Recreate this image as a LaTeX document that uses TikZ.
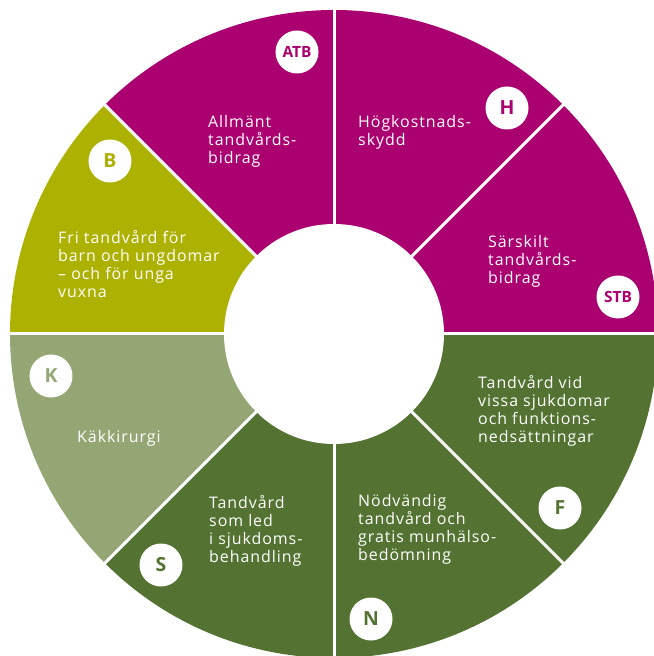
\documentclass[tikz,border=0pt]{standalone}
\usepackage{fontspec}
\newfontfamily\lblfont{Open Sans}[LetterSpace=6]
\newfontfamily\bdgfont{Open Sans}
\definecolor{cMag}{RGB}{170,0,112}
\definecolor{cYel}{RGB}{173,178,2}
\definecolor{cLgr}{RGB}{149,166,117}
\definecolor{cDgr}{RGB}{84,115,50}
\tikzset{
  lbl/.style={anchor=base west, align=left, text=white, inner sep=0pt,
    font=\lblfont\fontsize{16}{18.3}\selectfont},
  badge/.style={circle, fill=white, minimum size=43bp, inner sep=0pt,
    font=\bdgfont\bfseries\fontsize{19.5}{20}\selectfont},
  sbadge/.style={badge, font=\bdgfont\bfseries\fontsize{15.5}{16}\selectfont},
  divider/.style={white, line width=3bp}
}
\begin{document}
\begin{tikzpicture}[x=1bp,y=1bp]
\useasboundingbox (-334,-322) rectangle (320,334);
\begin{scope}
\clip (-334,-322) rectangle (320,334);
\fill[cMag] (0,0) -- (0:324bp) arc (0:135:324bp) -- cycle;
\fill[cYel] (0,0) -- (135:324bp) arc (135:180:324bp) -- cycle;
\fill[cLgr] (0,0) -- (180:324bp) arc (180:225:324bp) -- cycle;
\fill[cDgr] (0,0) -- (225:324bp) arc (225:360:324bp) -- cycle;
\foreach \a in {0,45,...,315} \draw[divider] (0,0) -- (\a:340bp);
\fill[white] (0,0) circle (110bp);
\end{scope}
% labels (anchor = baseline of the last line)
\node[lbl] (tATB) at (-126,170.4) {Allmänt\\tandvårds-\\bidrag};
\node[lbl] (tH) at (24,188.7) {Högkostnads-\\skydd};
\node[lbl] (tSTB) at (154,50.4) {Särskilt\\tandvårds-\\bidrag};
\node[lbl] (tB) at (-276,36.1) {Fri tandvård för\\barn och ungdomar\\– och för unga\\vuxna};
\node[lbl] (tK) at (-257,-108) {Käkkirurgi};
\node[lbl] (tS) at (-125,-228.9) {Tandvård\\som led\\i sjukdoms-\\behandling};
\node[lbl] (tN) at (24,-226.9) {Nödvändig\\tandvård och\\gratis munhälso-\\bedömning};
\node[lbl] (tF) at (144,-108.9) {Tandvård vid\\vissa sjukdomar\\och funktions-\\nedsättningar};
% badges
\node[sbadge, text=cMag] (bATB) at (-37,282) {ATB};
\node[badge, text=cMag] (bH) at (173,226) {H};
\node[sbadge, text=cMag] (bSTB) at (284,37) {STB};
\node[badge, text=cDgr] (bF) at (226,-174) {F};
\node[badge, text=cDgr] (bN) at (37,-285) {N};
\node[badge, text=cDgr] (bS) at (-173,-231) {S};
\node[badge, text=cLgr] (bK) at (-283,-42) {K};
\node[badge, text=cYel] (bB) at (-224,173) {B};
\end{tikzpicture}
\end{document}
